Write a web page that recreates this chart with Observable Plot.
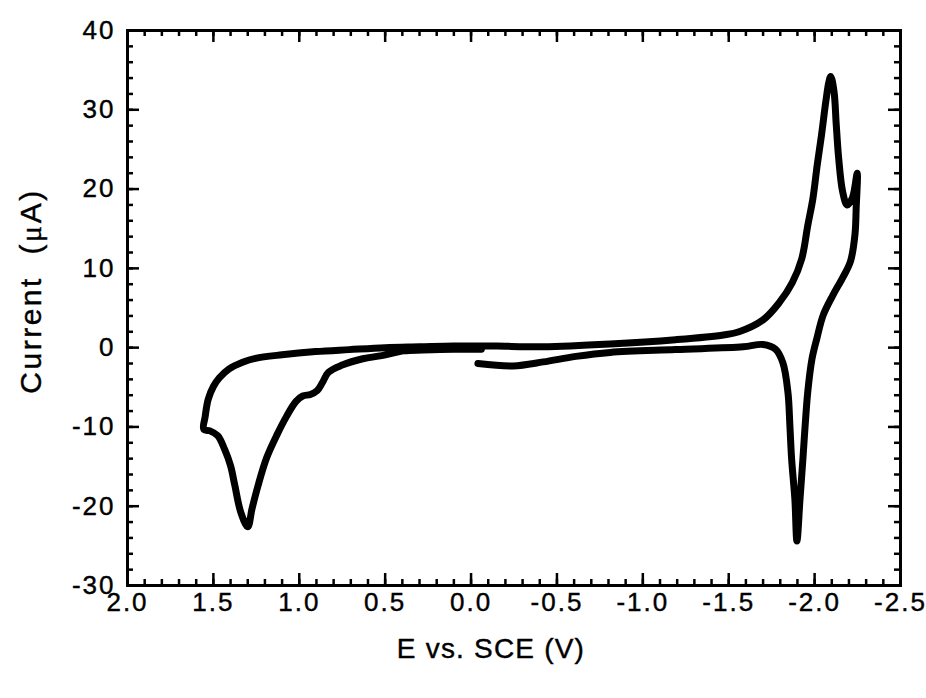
<!DOCTYPE html>
<html><head><meta charset="utf-8">
<script src="https://cdn.jsdelivr.net/npm/d3@7"></script>
<script src="https://cdn.jsdelivr.net/npm/@observablehq/plot@0.6"></script>
<style>
body{margin:0;background:#fff}
svg{display:block}
svg text{stroke:black;stroke-width:0.4px}
</style>
</head><body><div id="chart"></div>
<script>
// Sweep 1: 0 V -> +1.55 V
const sweep1E = [-0.06, 0.10, 0.28, 0.39, 0.52, 0.63, 0.75, 0.83, 0.865, 0.895, 0.935, 0.98, 1.02, 1.075, 1.13, 1.19, 1.24, 1.275, 1.30, 1.34, 1.375, 1.40, 1.435, 1.475, 1.52, 1.556];
const sweep1I = [-0.2, -0.2, -0.3, -0.4, -1.0, -1.4, -2.2, -3.1, -4.4, -5.4, -5.9, -6.1, -6.8, -8.7, -11.0, -13.9, -17.4, -20.3, -22.6, -20.8, -17.4, -14.9, -12.8, -11.1, -10.5, -10.3];
// Sweep 2: +1.55 V -> -2.25 V
const sweep2E = [1.548, 1.53, 1.50, 1.465, 1.41, 1.33, 1.255, 1.10, 0.905, 0.71, 0.50, 0.30, 0.10, -0.06, -0.15, -0.42, -0.81, -1.19, -1.47, -1.56, -1.70, -1.795, -1.87, -1.925, -1.96, -1.99, -2.015, -2.04, -2.065, -2.083, -2.094, -2.113, -2.126, -2.14, -2.163, -2.189, -2.22, -2.248];
const sweep2I = [-8.7, -6.5, -4.9, -3.8, -2.7, -1.85, -1.35, -0.9, -0.5, -0.25, 0.0, 0.1, 0.2, 0.2, 0.2, 0.1, 0.45, 1.0, 1.6, 2.0, 3.5, 5.7, 8.2, 11.2, 15.4, 18.8, 23.0, 26.8, 31.0, 33.5, 34.2, 32.3, 28.1, 23.9, 19.7, 18.0, 18.9, 22.0];
// Sweep 3: -2.25 V -> 0 V
const sweep3E = [-2.242, -2.235, -2.209, -2.163, -2.106, -2.05, -2.013, -1.985, -1.96, -1.945, -1.932, -1.915, -1.897, -1.885, -1.866, -1.856, -1.845, -1.815, -1.772, -1.70, -1.584, -1.19, -0.81, -0.61, -0.42, -0.245, -0.04];
const sweep3I = [17.6, 14.3, 10.9, 8.8, 6.6, 4.1, 1.15, -1.4, -5.6, -9.8, -14.0, -19.1, -24.4, -19.1, -14.0, -9.8, -5.7, -1.9, -0.2, 0.4, 0.1, -0.24, -0.6, -1.1, -1.8, -2.3, -2.0];

const xMajorTicks = [2.0, 1.5, 1.0, 0.5, 0.0, -0.5, -1.0, -1.5, -2.0, -2.5];
const yMajorTicks = [40, 30, 20, 10, 0, -10, -20, -30];
const xMinorTicks = d3.range(-25, 21).map(d => d / 10);
const yMinorTicks = d3.range(-30, 41, 2);
const xTitle = "E vs. SCE (V)";
const yTitle = "Current  (μA)";

const W = 926, H = 698, mL = 127, mR = 26, mT = 30, mB = 113;
const fw = W - mL - mR, fh = H - mT - mB;

const data = [];
[[sweep1E, sweep1I], [sweep2E, sweep2I], [sweep3E, sweep3I]].forEach(([e, c]) =>
  e.forEach((v, k) => data.push({E: v, I: c[k]})));

const fmtX = d => d.toFixed(1);
const fmtY = d => String(d);
const ink = {stroke: "black", strokeWidth: 2.5};

const chart = Plot.plot({
  width: W, height: H,
  marginLeft: mL, marginRight: mR, marginTop: mT, marginBottom: mB,
  style: {fontFamily: "'Liberation Sans', Arial, Helvetica, sans-serif", fontSize: "26px", color: "black", background: "white"},
  x: {domain: [2.0, -2.5], axis: null},
  y: {domain: [-30, 40], axis: null},
  marks: [
    Plot.line(data, {x: "E", y: "I", stroke: "black", strokeWidth: 7, curve: "catmull-rom", strokeLinejoin: "round", strokeLinecap: "round"}),
    Plot.tickX(xMinorTicks, {x: d => d, insetTop: fh - 6, ...ink}),
    Plot.tickX(xMajorTicks, {x: d => d, insetTop: fh - 12, ...ink}),
    Plot.tickX(xMinorTicks, {x: d => d, insetBottom: fh - 6, ...ink}),
    Plot.tickX(xMajorTicks, {x: d => d, insetBottom: fh - 12, ...ink}),
    Plot.tickY(yMinorTicks, {y: d => d, insetRight: fw - 6, ...ink}),
    Plot.tickY(yMajorTicks, {y: d => d, insetRight: fw - 12, ...ink}),
    Plot.tickY(yMinorTicks, {y: d => d, insetLeft: fw - 6, ...ink}),
    Plot.tickY(yMajorTicks, {y: d => d, insetLeft: fw - 12, ...ink}),
    Plot.frame({stroke: "black", strokeWidth: 3}),
    Plot.text(xMajorTicks, {x: d => d, text: fmtX, frameAnchor: "bottom", dy: 25, fontSize: 26, fill: "black", textAnchor: "middle"}),
    Plot.text(yMajorTicks, {y: d => d, text: fmtY, frameAnchor: "left", dx: -12, textAnchor: "end", fontSize: 26, fill: "black"}),
    Plot.text([xTitle], {frameAnchor: "bottom", dx: -23, dy: 72, fontSize: 28, fill: "black", textAnchor: "middle"}),
    Plot.text([yTitle], {frameAnchor: "left", dx: -96, dy: -17, rotate: -90, fontSize: 30, fill: "black", textAnchor: "middle"})
  ]
});

document.getElementById("chart").appendChild(chart);

// letter spacing per text group, serif mu and preserved double space in the y title
d3.select(chart).selectAll("text").each(function() {
  const t = this.textContent;
  if (t === yTitle) {
    this.style.letterSpacing = "2.5px";
    this.style.whiteSpace = "pre";
    this.textContent = "";
    const parts = [["Current\u00a0\u00a0(", null], ["μ", "'Liberation Serif', 'Times New Roman', serif"], ["A)", null]];
    parts.forEach(([s, f]) => {
      const ts = document.createElementNS("http://www.w3.org/2000/svg", "tspan");
      ts.textContent = s;
      if (f) ts.setAttribute("font-family", f);
      this.appendChild(ts);
    });
  } else if (t === xTitle) {
    this.style.letterSpacing = "1.2px";
  } else {
    this.style.letterSpacing = "2px";
  }
});
</script>
</body></html>
